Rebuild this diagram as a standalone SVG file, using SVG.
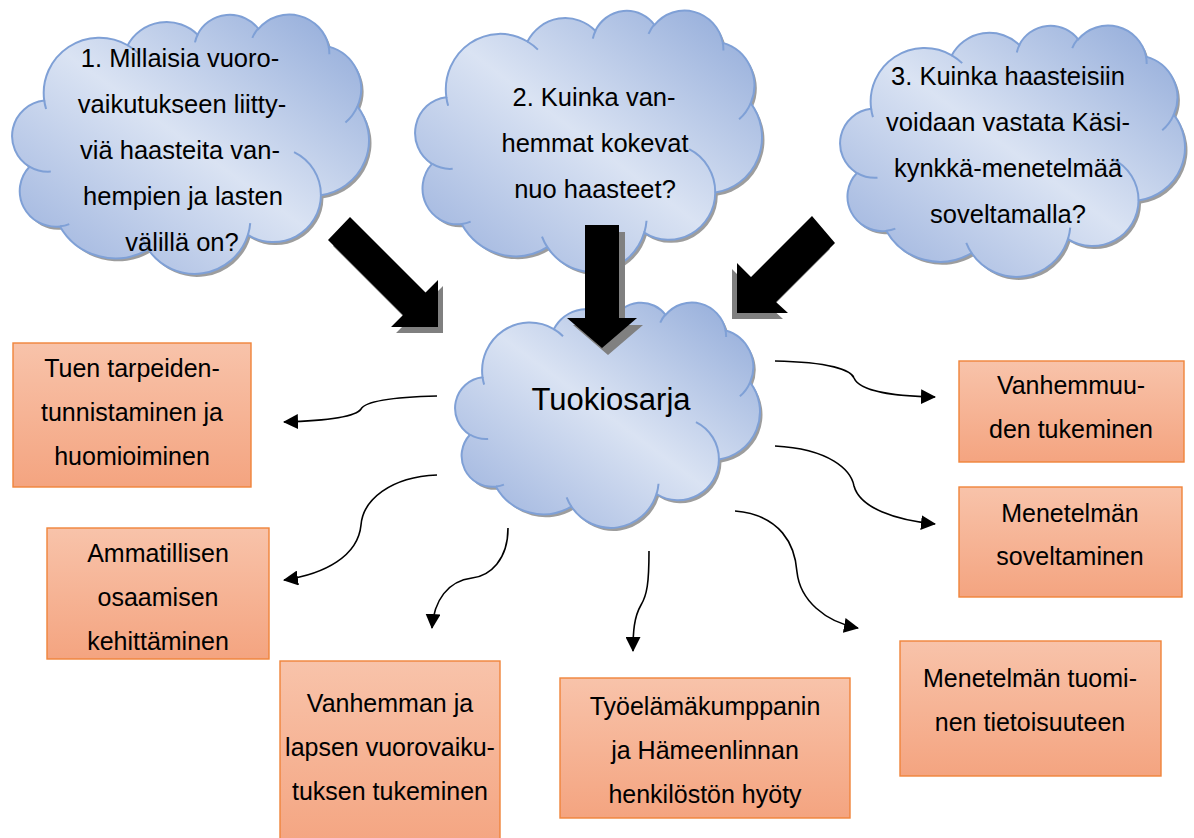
<svg xmlns="http://www.w3.org/2000/svg" width="1194" height="838" viewBox="0 0 1194 838">
<style>
.cloud{fill:url(#cloudGrad);stroke:#7fa0d6;stroke-width:2}
.cshadow{fill:#000;opacity:0.38;stroke:none}
.cline{fill:none;stroke:#7fa0d6;stroke-width:2}
.box{fill:url(#boxGrad);stroke:#f0843a;stroke-width:1.4}
.t{font-family:"Liberation Sans",Arial,sans-serif;font-size:25px;fill:#000;text-anchor:middle}
.ct{font-family:"Liberation Sans",Arial,sans-serif;font-size:25.5px;fill:#000;text-anchor:middle}
.big{fill:#000}
.bigsh{fill:#808080}
.conn{fill:none;stroke:#000;stroke-width:1.6;marker-end:url(#ah)}
</style>
<defs>
<linearGradient id="cloudGrad" x1="1" y1="0" x2="0" y2="1">
<stop offset="0" stop-color="#8ea8d8"/>
<stop offset="0.5" stop-color="#dae3f3"/>
<stop offset="1" stop-color="#98afdc"/>
</linearGradient>
<linearGradient id="boxGrad" x1="0" y1="0" x2="0" y2="1">
<stop offset="0" stop-color="#f8c3aa"/>
<stop offset="1" stop-color="#f4a480"/>
</linearGradient>
<filter id="blur" x="-5%" y="-5%" width="110%" height="110%"><feGaussianBlur stdDeviation="0.8"/></filter>
<path id="co" vector-effect="non-scaling-stroke" d="M3900 14370 A6753 9190 0 0 1 14000 5192 A5333 7267 0 0 1 22451 3422 A4365 5945 0 0 1 29828 2471 A4857 6595 0 0 1 38324 5426 A5333 7273 0 0 1 41798 15354 A6775 9220 0 0 1 37384 30097 A5785 7867 0 0 1 28536 36707 A6752 9215 0 0 1 16478 39090 A7720 10543 0 0 1 5803 35296 A4360 5918 0 0 1 2112 25374 A4345 5945 0 0 1 3900 14370 Z"/>
<path id="ci" vector-effect="non-scaling-stroke" d="M4693 26177 A4345 5945 0 0 1 2160 25380 M6928 34899 A4360 5918 0 0 1 5820 35281 M16478 39090 A6752 9215 0 0 1 15810 37350 M28827 34751 A6752 9215 0 0 1 28560 36660 M34129 22954 A5785 7867 0 0 1 37380 30090 M41798 15354 A5333 7273 0 0 1 40350 18030 M38324 5426 A4857 6595 0 0 1 38401 6690 M29078 3952 A4857 6595 0 0 1 29820 2340 M22141 4720 A4365 5945 0 0 1 22500 3330 M14000 5192 A6753 9190 0 0 1 15300 6540 M4127 15789 A6753 9190 0 0 1 3900 14370"/>
<marker id="ah" markerUnits="userSpaceOnUse" markerWidth="15" markerHeight="15" viewBox="0 0 15 15" refX="14" refY="7.5" orient="auto"><path d="M0,0 L15,7.5 L0,15 z" fill="#000"/></marker>
</defs>

<g id="q1">
<use href="#co" class="cshadow" filter="url(#blur)" transform="translate(14.5,17) scale(0.008264,0.006019)"/>
<use href="#co" class="cloud" transform="translate(12,14) scale(0.008264,0.006019)"/>
<use href="#ci" class="cline" transform="translate(12,14) scale(0.008264,0.006019)"/>
<text class="ct" x="180" y="67">1. Millaisia vuoro-</text>
<text class="ct" x="182" y="113">vaikutukseen liitty-</text>
<text class="ct" x="180" y="159">viä haasteita van-</text>
<text class="ct" x="183" y="205">hempien ja lasten</text>
<text class="ct" x="182" y="251">välillä on?</text>
</g>

<g id="q2">
<use href="#co" class="cshadow" filter="url(#blur)" transform="translate(417.5,13) scale(0.008032,0.006065)"/>
<use href="#co" class="cloud" transform="translate(415,10) scale(0.008032,0.006065)"/>
<use href="#ci" class="cline" transform="translate(415,10) scale(0.008032,0.006065)"/>
<text class="ct" x="594" y="106">2. Kuinka van-</text>
<text class="ct" x="595" y="152">hemmat kokevat</text>
<text class="ct" x="595" y="198">nuo haasteet?</text>
</g>

<g id="q3">
<use href="#co" class="cshadow" filter="url(#blur)" transform="translate(842.5,28) scale(0.007986,0.005833)"/>
<use href="#co" class="cloud" transform="translate(840,25) scale(0.007986,0.005833)"/>
<use href="#ci" class="cline" transform="translate(840,25) scale(0.007986,0.005833)"/>
<text class="ct" x="1008" y="85">3. Kuinka haasteisiin</text>
<text class="ct" x="1008" y="131">voidaan vastata Käsi-</text>
<text class="ct" x="1008" y="177">kynkkä-menetelmää</text>
<text class="ct" x="1008" y="223">soveltamalla?</text>
</g>

<g id="arrows">
<polygon class="bigsh" transform="translate(5,6)" points="350,217 425.5,292.5 438,280 438,327 391,327 403,315 328,240"/>
<polygon class="big" points="350,217 425.5,292.5 438,280 438,327 391,327 403,315 328,240"/>
<polygon class="bigsh" transform="translate(-5,6)" points="812,216 835,243 776,302 788,313 737,313 737,263 751,277"/>
<polygon class="big" points="812,216 835,243 776,302 788,313 737,313 737,263 751,277"/>
</g>

<g id="center">
<use href="#co" class="cshadow" filter="url(#blur)" transform="translate(457.5,305) scale(0.00706,0.005231)"/>
<use href="#co" class="cloud" transform="translate(455,302) scale(0.00706,0.005231)"/>
<use href="#ci" class="cline" transform="translate(455,302) scale(0.00706,0.005231)"/>
<text class="t" x="611" y="410" style="font-size:31px">Tuokiosarja</text>
</g>

<g id="arrow2">
<polygon class="bigsh" transform="translate(6,7)" points="585,225 619,225 619,318 637,318 602,348 567,318 585,318"/>
<polygon class="big" points="585,225 619,225 619,318 637,318 602,348 567,318 585,318"/>
</g>

<g id="connectors">
<path class="conn" d="M437,396 C398,397 366,400 361,409 C355,418 318,421 284,422"/>
<path class="conn" d="M437,475 C390,477 363,500 361,525 C358,556 325,574 284,580"/>
<path class="conn" d="M508,528 C508,560 490,576 472,578 C448,581 434,600 432,628"/>
<path class="conn" d="M649,551 C649,583 647,595 641,605 C634,617 633,632 633,651"/>
<path class="conn" d="M775,361 C830,362 851,370 854,378 C860,392 895,396 935,397"/>
<path class="conn" d="M775,446 C830,449 851,470 854,486 C860,508 895,520 935,524"/>
<path class="conn" d="M735,511 C781,515 795,545 797,572 C800,600 825,622 858,628"/>
</g>

<g id="boxA">
<rect class="box" x="13" y="343" width="238" height="144"/>
<text class="t" x="132" y="377">Tuen tarpeiden-</text>
<text class="t" x="132" y="421">tunnistaminen ja</text>
<text class="t" x="132" y="465">huomioiminen</text>
</g>
<g id="boxB">
<rect class="box" x="47" y="528" width="222" height="131"/>
<text class="t" x="158" y="562">Ammatillisen</text>
<text class="t" x="158" y="606">osaamisen</text>
<text class="t" x="158" y="650">kehittäminen</text>
</g>
<g id="boxC">
<rect class="box" x="280" y="661" width="220" height="190"/>
<text class="t" x="390" y="712">Vanhemman ja</text>
<text class="t" x="390" y="756">lapsen vuorovaiku-</text>
<text class="t" x="390" y="800">tuksen tukeminen</text>
</g>
<g id="boxD">
<rect class="box" x="560" y="678" width="290" height="140"/>
<text class="t" x="705" y="715">Työelämäkumppanin</text>
<text class="t" x="705" y="759">ja Hämeenlinnan</text>
<text class="t" x="705" y="803">henkilöstön hyöty</text>
</g>
<g id="boxE">
<rect class="box" x="959" y="361" width="225" height="101"/>
<text class="t" x="1071" y="394">Vanhemmuu-</text>
<text class="t" x="1071" y="438">den tukeminen</text>
</g>
<g id="boxF">
<rect class="box" x="959" y="487" width="223" height="110"/>
<text class="t" x="1070" y="522">Menetelmän</text>
<text class="t" x="1070" y="565">soveltaminen</text>
</g>
<g id="boxG">
<rect class="box" x="900" y="641" width="261" height="135"/>
<text class="t" x="1030" y="687">Menetelmän tuomi-</text>
<text class="t" x="1030" y="731">nen tietoisuuteen</text>
</g>
</svg>
